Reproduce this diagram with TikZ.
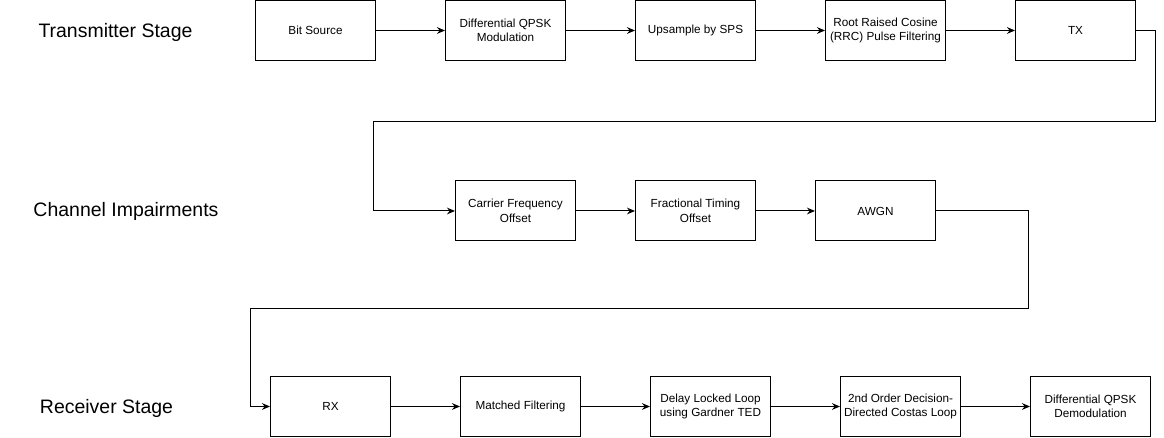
\documentclass[tikz,border=0pt]{standalone}
\usepackage{fontspec}
\setmainfont{Liberation Sans}
\usetikzlibrary{arrows.meta}

\tikzset{every picture/.style={line width=0.75pt}}
\tikzset{
	blockbox/.style={draw, minimum width=90pt, minimum height=45pt, inner sep=1pt, align=center, font=\fontsize{8.8}{10.8}\selectfont},
	stagetxt/.style={font=\fontsize{14.6}{17}\selectfont},
	flow/.style={-{Stealth[length=6pt,width=5pt]}}
}

\begin{document}
\begin{tikzpicture}[x=0.75pt,y=0.75pt,yscale=-1,xscale=1]
	\useasboundingbox (0,0) rectangle (1164,438);

	% Text Node
	\draw (115.5,32) node [stagetxt] (tstage) {Transmitter Stage};
	% Text Node
	\draw (126,211.5) node [stagetxt] (cstage) {Channel Impairments};
	% Text Node
	\draw (106.5,408) node [stagetxt] (rstage) {Receiver Stage};

	%Transmitter row
	\draw (315.5,30.5) node [blockbox] (bits) {Bit Source};
	\draw (505.5,30.5) node [blockbox] (dqpsk) {Differential QPSK\\Modulation};
	\draw (695.5,30.5) node [blockbox] (upsmp) {Upsample by SPS};
	\draw (885.5,30.5) node [blockbox] (rrc) {Root Raised Cosine\\(RRC) Pulse Filtering};
	\draw (1075.5,30.5) node [blockbox] (tx) {TX};

	%Channel row
	\draw (515.5,211) node [blockbox] (cfo) {Carrier Frequency\\Offset};
	\draw (695.5,211) node [blockbox] (fto) {Fractional Timing\\Offset};
	\draw (875.5,211) node [blockbox] (awgn) {AWGN};

	%Receiver row
	\draw (330.5,406.5) node [blockbox] (rx) {RX};
	\draw (520.5,406.5) node [blockbox] (mf) {Matched Filtering};
	\draw (710.5,406.5) node [blockbox] (dll) {Delay Locked Loop\\using Gardner TED};
	\draw (900.5,406.5) node [blockbox] (costas) {2nd Order Decision-\\Directed Costas Loop};
	\draw (1090.5,406.5) node [blockbox] (ddemod) {Differential QPSK\\Demodulation};

	%Straight Lines
	\draw [flow] (bits) -- (dqpsk);
	\draw [flow] (dqpsk) -- (upsmp);
	\draw [flow] (upsmp) -- (rrc);
	\draw [flow] (rrc) -- (tx);
	\draw [flow] (cfo) -- (fto);
	\draw [flow] (fto) -- (awgn);
	\draw [flow] (rx) -- (mf);
	\draw [flow] (mf) -- (dll);
	\draw [flow] (dll) -- (costas);
	\draw [flow] (costas) -- (ddemod);

	%Connectors between rows
	\coordinate (txturn) at (1155,121.5);
	\coordinate (cfoturn) at (373,121.5);
	\draw [flow] (tx.east) -| (txturn) -- (cfoturn) |- (cfo.west);
	\coordinate (awgnturn) at (1028.5,309);
	\coordinate (rxturn) at (250.5,309);
	\draw [flow] (awgn.east) -| (awgnturn) -- (rxturn) |- (rx.west);

\end{tikzpicture}
\end{document}
